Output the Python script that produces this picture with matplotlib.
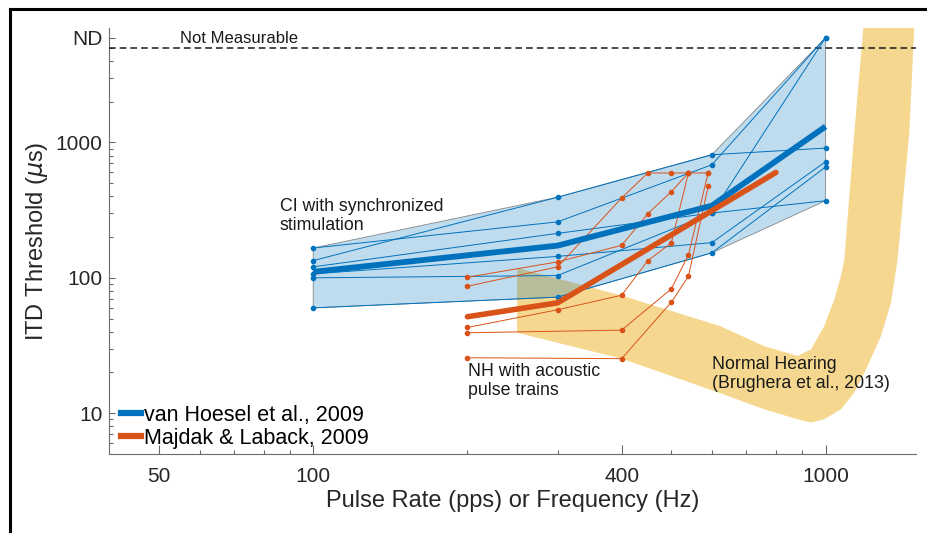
import matplotlib
matplotlib.use('Agg')
import matplotlib.pyplot as plt
from matplotlib.lines import Line2D
import numpy as np

plt.rcParams['font.family'] = ['Liberation Sans', 'DejaVu Sans']
plt.rcParams['mathtext.fontset'] = 'dejavusans'

BLUE = '#0072BD'
ORANGE = '#D95319'
YELLOW = (0.929, 0.694, 0.125)

# ---- CI data (van Hoesel et al., 2009) ----
ci_rates = [100, 300, 600, 1000]
ci_s1 = [134, 394, 811, 908]
ci_s2 = [166, 259, 684, 5930]
ci_s3 = [120.5, 213, 301, 5930]
ci_s4 = [107, 144, 182, 720]
ci_s5 = [100, 104, 301, 371]
ci_s6 = [60, 72, 153, 658]
ci_mean = [110.7, 173, 341, 1310]
ci_upper = [166, 394, 811, 5930]
ci_lower = [60, 72, 153, 371]

# ---- NH acoustic pulse trains (Majdak & Laback, 2009) ----
nh_r1 = [200, 300, 400, 450, 500, 540, 590]
nh_t1 = [86.7, 120.5, 388.6, 594.6, 594.6, 594.6, 594.6]
nh_r2 = [200, 300, 400, 450, 500, 540]
nh_t2 = [101, 131.2, 173.8, 297.8, 432.6, 594.6]
nh_r3 = [200, 300, 400, 450, 500, 540]
nh_t3 = [43, 58.1, 74.4, 134, 181, 594.6]
nh_r4 = [200, 400, 500, 540, 590]
nh_t4 = [39.3, 41.1, 82.9, 147.7, 594.6]
nh_r5 = [200, 400, 500, 540, 590]
nh_t5 = [25.7, 25.3, 66.1, 102.7, 472.8]
nh_mean_rates = [200, 300, 800]
nh_mean = [51.6, 65.4, 600]

# ---- Normal hearing band (Brughera et al., 2013) ----
band_inner_f = [250, 400, 623, 759, 882, 937, 994, 1040, 1072, 1088, 1138, 1185]
band_inner_t = [118.5, 74, 44, 31.3, 26.5, 29.6, 44, 69, 103, 136, 1177, 7000]
band_outer_f = [250, 400, 606, 759, 882, 937, 994, 1072, 1138, 1208, 1283, 1342, 1382, 1457, 1490]
band_outer_t = [39.3, 25.3, 14.6, 10.7, 9.03, 8.54, 9.03, 10.7, 14.2, 22.3, 37.1, 65.4, 136, 1177, 7000]

not_measurable = 5000
x_major = [50, 100, 400, 1000]
x_major_labels = ['50', '100', '400', '1000']
x_minor = [60, 70, 80, 90, 200, 300, 500, 600, 700, 800, 900]
y_major = [10, 100, 1000, 5930]
y_major_labels = ['10', '100', '1000', 'ND']
y_minor = [6, 7, 8, 9, 20, 30, 40, 50, 60, 70, 80, 90,
           200, 300, 400, 500, 600, 700, 800, 900, 2000, 3000, 4000, 5000]

fig = plt.figure(figsize=(9.28, 5.33), dpi=100)
ax = fig.add_axes([0.1178, 0.1482, 0.869, 0.7993])
ax.set_xscale('log')
ax.set_yscale('log')
ax.set_xlim(40, 1500)
ax.set_ylim(5, 7000)

# NH band
bx = list(band_inner_f) + list(band_outer_f[::-1])
by = list(band_inner_t) + list(band_outer_t[::-1])
ax.fill(bx, by, facecolor=YELLOW, alpha=0.5, edgecolor='none', zorder=1)

# CI envelope
ex = list(ci_rates) + list(ci_rates[::-1])
ey = list(ci_upper) + list(ci_lower[::-1])
ax.fill(ex, ey, facecolor=BLUE, alpha=0.25, edgecolor='none', zorder=2)
ax.fill(ex, ey, fill=False, edgecolor='#6f6f6f', lw=0.6, alpha=0.8, zorder=2.1)

# not measurable line
ax.axhline(not_measurable, color='#1a1a1a', lw=1.1, ls=(0, (4.4, 2.6)), zorder=3)

for s in [ci_s1, ci_s2, ci_s3, ci_s4, ci_s5, ci_s6]:
    ax.plot(ci_rates, s, color=BLUE, lw=0.7, marker='o', ms=3.0, zorder=4)
for r, t in [(nh_r1, nh_t1), (nh_r2, nh_t2), (nh_r3, nh_t3), (nh_r4, nh_t4), (nh_r5, nh_t5)]:
    ax.plot(r, t, color=ORANGE, lw=0.7, marker='o', ms=3.0, zorder=4)

ax.plot(ci_rates, ci_mean, color=BLUE, lw=4.2, solid_capstyle='butt', zorder=5)
ax.plot(nh_mean_rates, nh_mean, color=ORANGE, lw=4.0, solid_capstyle='round', zorder=6)

# texts
ax.text(55, 5900, 'Not Measurable', fontsize=12, va='center', ha='left', color='#1a1a1a')
ax.text(86, 285, 'CI with synchronized\nstimulation', fontsize=12.8, va='center', ha='left',
        linespacing=1.15, color='#1a1a1a')
ax.text(200.5, 17.3, 'NH with acoustic\npulse trains', fontsize=12.8, va='center', ha='left',
        linespacing=1.15, color='#1a1a1a')
ax.text(600, 19.6, 'Normal Hearing\n(Brughera et al., 2013)', fontsize=12.8, va='center', ha='left',
        linespacing=1.15, color='#1a1a1a')

# axes styling
for sp in ['top', 'right']:
    ax.spines[sp].set_visible(False)
for sp in ['left', 'bottom']:
    ax.spines[sp].set_color('#6a6a6a')
    ax.spines[sp].set_linewidth(0.8)

ax.xaxis.set_major_locator(matplotlib.ticker.FixedLocator(x_major))
ax.xaxis.set_minor_locator(matplotlib.ticker.FixedLocator(x_minor))
ax.xaxis.set_major_formatter(matplotlib.ticker.FixedFormatter(x_major_labels))
ax.xaxis.set_minor_formatter(matplotlib.ticker.NullFormatter())
ax.yaxis.set_major_locator(matplotlib.ticker.FixedLocator(y_major))
ax.yaxis.set_minor_locator(matplotlib.ticker.FixedLocator(y_minor))
ax.yaxis.set_major_formatter(matplotlib.ticker.FixedFormatter(y_major_labels))
ax.yaxis.set_minor_formatter(matplotlib.ticker.NullFormatter())

ax.tick_params(axis='x', which='major', direction='in', length=6.5, width=0.8, color='#6a6a6a',
               labelsize=15, labelcolor='#262626', pad=9)
ax.tick_params(axis='x', which='minor', direction='in', length=3, width=0.8, color='#6a6a6a')
ax.tick_params(axis='y', which='major', direction='in', length=4.3, width=0.8, color='#6a6a6a',
               labelsize=15, labelcolor='#262626', pad=5)
ax.tick_params(axis='y', which='minor', direction='in', length=2.9, width=0.8, color='#6a6a6a')

ax.set_xlabel('Pulse Rate (pps) or Frequency (Hz)', fontsize=17, color='#262626')
ax.set_ylabel('ITD Threshold ($\\mu$s)', fontsize=17, color='#262626')
ax.xaxis.set_label_coords(0.5, -0.085)
ax.yaxis.set_label_coords(-0.074, 0.5)

handles = [Line2D([0], [0], color=BLUE, lw=4.5),
           Line2D([0], [0], color=ORANGE, lw=4.5)]
ax.legend(handles, ['van Hoesel et al., 2009', 'Majdak & Laback, 2009'], loc='lower left',
          bbox_to_anchor=(0.014, 0.012), frameon=False, fontsize=15.5, handlelength=0.95,
          handletextpad=0.15, labelspacing=0.1, borderpad=0, borderaxespad=0)

# figure border (top and left)
fig.add_artist(Line2D([10.5 / 928, 1.0], [1 - 8.5 / 533, 1 - 8.5 / 533], color='k', lw=2.2,
                      transform=fig.transFigure))
fig.add_artist(Line2D([10.5 / 928, 10.5 / 928], [0, 1 - 8.5 / 533], color='k', lw=2.2,
                      transform=fig.transFigure))

fig.savefig('out.png', dpi=100)
